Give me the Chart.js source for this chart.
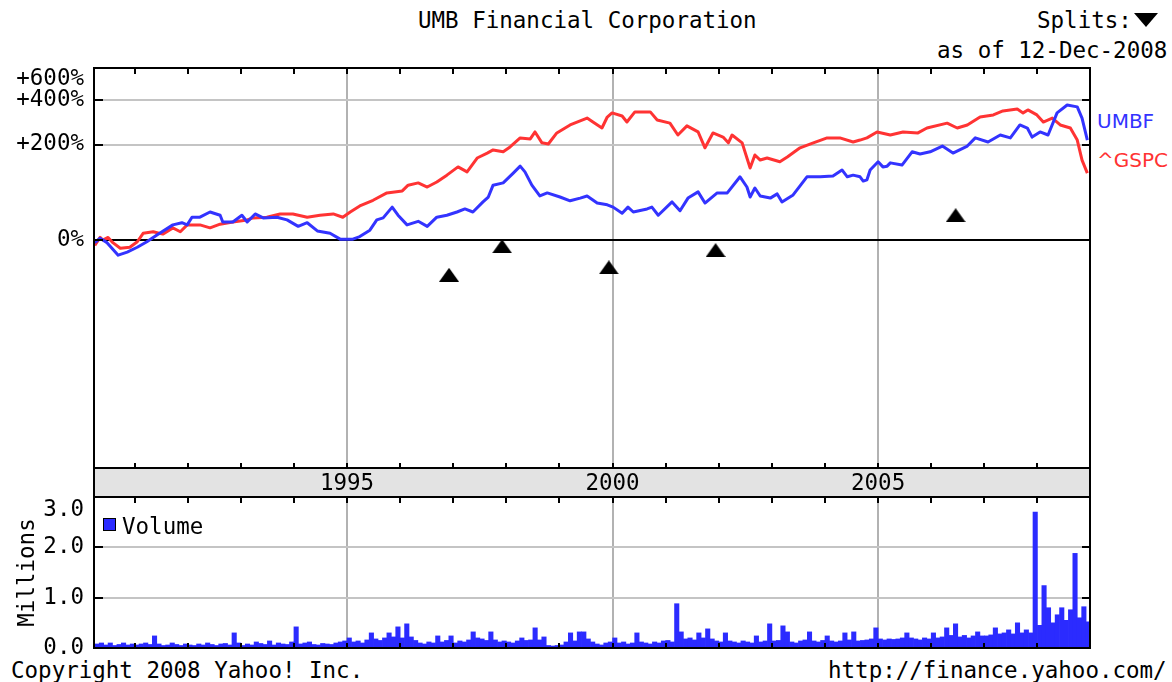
<!DOCTYPE html>
<html>
<head>
<meta charset="utf-8">
<script src="https://cdn.jsdelivr.net/npm/chart.js@4.4.1/dist/chart.umd.min.js"></script>
<style>
  body { margin: 0; background: #fff; width: 1172px; height: 682px; overflow: hidden; position: relative;
         font-family: "DejaVu Sans Mono", monospace; font-size: 22.5px; color: #000; }
  .t { position: absolute; white-space: pre; line-height: 27px; }
  .lbl { font-family: "DejaVu Sans", sans-serif; font-size: 20px; line-height: 24px; }
  .box { position: absolute; left: 0; width: 1172px; }
  #splitMark { position: absolute; left: 1134px; top: 13px; width: 0; height: 0;
               border-left: 12px solid transparent; border-right: 12px solid transparent; border-top: 14px solid #000; }
</style>
</head>
<body>
<div class="t" style="left:418px; top:7px">UMB Financial Corporation</div>
<div class="t" style="left:1037px; top:7px">Splits:</div>
<div id="splitMark"></div>
<div class="t" style="left:937px; top:37px">as of 12-Dec-2008</div>
<div class="t lbl" style="left:1097px; top:109px; color:#3333ff">UMBF</div>
<div class="t lbl" style="left:1097px; top:148px; color:#ff3333">^GSPC</div>
<div class="t" style="left:11px; top:657px">Copyright 2008 Yahoo! Inc.</div>
<div class="t" style="left:828px; top:657px">http://finance.yahoo.com/</div>

<div class="box" style="top:0; height:497px"><canvas id="priceChart"></canvas></div>
<div class="box" style="top:480px; height:180px"><canvas id="volumeChart"></canvas></div>

<script>
// ---- data (x in decimal years, change in % since the start) ----
const umbfYears = [1990.25, 1990.35, 1990.48, 1990.69, 1990.86, 1991.05, 1991.23, 1991.42, 1991.72, 1991.89,
  1991.99, 1992.08, 1992.23, 1992.42, 1992.61, 1992.66, 1992.85, 1993.02, 1993.12, 1993.27,
  1993.42, 1993.68, 1993.87, 1994.08, 1994.25, 1994.44, 1994.68, 1994.87, 1995.11, 1995.24,
  1995.43, 1995.56, 1995.68, 1995.85, 1995.96, 1996.13, 1996.34, 1996.51, 1996.69, 1996.88,
  1997.07, 1997.22, 1997.37, 1997.56, 1997.66, 1997.75, 1997.94, 1998.13, 1998.26, 1998.35,
  1998.48, 1998.63, 1998.77, 1999.01, 1999.20, 1999.39, 1999.52, 1999.71, 1999.90, 2000.01,
  2000.18, 2000.29, 2000.39, 2000.65, 2000.74, 2000.86, 2001.12, 2001.27, 2001.42, 2001.61,
  2001.74, 2001.97, 2002.16, 2002.40, 2002.53, 2002.59, 2002.68, 2002.78, 2002.97, 2003.10,
  2003.19, 2003.40, 2003.66, 2003.91, 2004.15, 2004.32, 2004.42, 2004.53, 2004.66, 2004.72,
  2004.79, 2004.85, 2005.00, 2005.09, 2005.17, 2005.23, 2005.45, 2005.64, 2005.79, 2005.98,
  2006.21, 2006.41, 2006.68, 2006.83, 2007.07, 2007.30, 2007.49, 2007.67, 2007.81, 2007.90,
  2008.05, 2008.20, 2008.37, 2008.56, 2008.75, 2008.84, 2008.94];
const umbfPct = [-3, 2, -3, -16, -13, -8, -2, 6, 19, 22,
  19, 30, 30, 38, 33, 23, 23, 33, 23, 35,
  29, 30, 26, 17, 22, 11, 8, 1, 1, 4,
  12, 26, 29, 46, 33, 19, 24, 17, 30, 33,
  38, 43, 38, 55, 64, 88, 93, 116, 134, 119,
  88, 66, 72, 64, 57, 62, 66, 53, 50, 46,
  36, 46, 38, 43, 46, 33, 55, 40, 62, 74,
  53, 72, 72, 107, 84, 64, 82, 66, 62, 70,
  55, 68, 107, 107, 109, 124, 107, 111, 107, 97,
  100, 124, 146, 132, 134, 143, 137, 176, 169, 176,
  195, 172, 195, 224, 209, 235, 224, 276, 263, 227,
  247, 235, 332, 373, 363, 307, 216];

const gspcYears = [1990.25, 1990.35, 1990.40, 1990.50, 1990.59, 1990.73, 1990.91, 1991.05, 1991.16, 1991.35,
  1991.53, 1991.72, 1991.86, 1991.99, 1992.23, 1992.42, 1992.61, 1992.85, 1993.12, 1993.23,
  1993.49, 1993.74, 1993.98, 1994.25, 1994.49, 1994.74, 1994.92, 1995.06, 1995.24, 1995.49,
  1995.75, 1996.04, 1996.15, 1996.34, 1996.51, 1996.69, 1996.88, 1997.09, 1997.26, 1997.45,
  1997.64, 1997.75, 1997.94, 1998.07, 1998.26, 1998.45, 1998.54, 1998.67, 1998.79, 1998.95,
  1999.20, 1999.52, 1999.63, 1999.80, 1999.90, 1999.99, 2000.18, 2000.27, 2000.42, 2000.71,
  2000.84, 2001.08, 2001.23, 2001.40, 2001.61, 2001.74, 2001.89, 2002.08, 2002.18, 2002.25,
  2002.44, 2002.53, 2002.59, 2002.68, 2002.78, 2002.91, 2003.15, 2003.29, 2003.53, 2003.78,
  2004.04, 2004.28, 2004.53, 2004.66, 2004.79, 2004.98, 2005.23, 2005.47, 2005.75, 2005.92,
  2006.30, 2006.49, 2006.68, 2006.92, 2007.17, 2007.35, 2007.62, 2007.73, 2007.82, 2007.99,
  2008.11, 2008.28, 2008.43, 2008.62, 2008.75, 2008.84, 2008.94];
const gspcPct = [-6, 3, 0, 3, -3, -9, -8, -2, 8, 10,
  7, 15, 10, 19, 19, 15, 20, 23, 26, 29,
  30, 35, 35, 30, 33, 35, 30, 38, 48, 58,
  72, 76, 88, 93, 84, 95, 111, 132, 119, 157,
  172, 182, 176, 192, 224, 220, 247, 206, 202, 243,
  276, 307, 289, 263, 312, 332, 317, 289, 337, 337,
  298, 284, 235, 272, 247, 189, 243, 227, 206, 235,
  206, 157, 129, 166, 151, 157, 146, 160, 189, 206,
  224, 224, 209, 216, 224, 247, 235, 247, 243, 263,
  284, 263, 276, 312, 322, 342, 352, 332, 347, 322,
  289, 307, 276, 263, 216, 151, 116];

// split markers
const splitYears = [1996.92, 1997.92, 1999.93, 2001.94, 2006.46];
const splitPct = [-33, -7, -27, -11, 33];

// monthly volume in millions, April 1990 .. December 2008
const volumeFirstMonth = [1990, 4];
const volumeMillions = [
  0.08, 0.10, 0.06, 0.10, 0.05, 0.07, 0.10, 0.06, 0.08,                    // 1990
  0.06, 0.08, 0.10, 0.07, 0.24, 0.08, 0.05, 0.06, 0.10, 0.07, 0.05, 0.08,  // 1991
  0.06, 0.05, 0.08, 0.06, 0.10, 0.07, 0.05, 0.08, 0.09, 0.06, 0.30, 0.10,  // 1992
  0.05, 0.08, 0.06, 0.12, 0.09, 0.07, 0.14, 0.06, 0.10, 0.08, 0.07, 0.12,  // 1993
  0.42, 0.08, 0.10, 0.12, 0.07, 0.06, 0.09, 0.08, 0.07, 0.10, 0.12, 0.14,  // 1994
  0.20, 0.12, 0.14, 0.10, 0.16, 0.30, 0.18, 0.15, 0.20, 0.30, 0.22, 0.42,  // 1995
  0.20, 0.48, 0.22, 0.15, 0.10, 0.08, 0.12, 0.10, 0.24, 0.12, 0.15, 0.24,  // 1996
  0.10, 0.14, 0.12, 0.16, 0.32, 0.20, 0.18, 0.15, 0.32, 0.16, 0.12, 0.14,  // 1997
  0.12, 0.10, 0.14, 0.20, 0.15, 0.16, 0.40, 0.16, 0.22, 0.05, 0.04, 0.05,  // 1998
  0.06, 0.12, 0.30, 0.14, 0.32, 0.32, 0.18, 0.12, 0.08, 0.06, 0.10, 0.12,  // 1999
  0.20, 0.10, 0.12, 0.08, 0.10, 0.30, 0.12, 0.10, 0.08, 0.12, 0.10, 0.14,  // 2000
  0.15, 0.12, 0.88, 0.32, 0.18, 0.20, 0.16, 0.30, 0.20, 0.38, 0.18, 0.14,  // 2001
  0.12, 0.30, 0.14, 0.12, 0.10, 0.14, 0.12, 0.10, 0.24, 0.12, 0.14, 0.48,  // 2002
  0.14, 0.15, 0.44, 0.32, 0.12, 0.10, 0.14, 0.16, 0.32, 0.14, 0.12, 0.15,  // 2003
  0.24, 0.14, 0.12, 0.14, 0.30, 0.16, 0.32, 0.14, 0.15, 0.16, 0.18, 0.40,  // 2004
  0.18, 0.16, 0.18, 0.17, 0.18, 0.20, 0.30, 0.20, 0.18, 0.16, 0.20, 0.18,  // 2005
  0.30, 0.20, 0.22, 0.40, 0.25, 0.48, 0.22, 0.25, 0.20, 0.24, 0.32, 0.24,  // 2006
  0.24, 0.26, 0.40, 0.28, 0.30, 0.36, 0.28, 0.50, 0.30, 0.36, 0.30, 2.70,  // 2007
  0.45, 1.24, 0.80, 0.50, 0.66, 0.80, 0.55, 0.76, 1.88, 0.60, 0.82, 0.52   // 2008
];

// axis ticks
const yearTicks = [1991, 1992, 1993, 1994, 1995, 1996, 1997, 1998, 1999, 2000,
  2001, 2002, 2003, 2004, 2005, 2006, 2007, 2008];
const labelledYears = [1995, 2000, 2005];
const pctTicks = [0, 200, 400, 600];
const pctTickLabels = ['0%', '+200%', '+400%', '+600%'];
const volumeTicks = [0, 1, 2, 3];
const volumeTickLabels = ['0.0', '1.0', '2.0', '3.0'];

// ---- display settings ----
const xMin = 1990.235, xMax = 2008.99;
const yMin = 0.07244, yMax = 7.244;   // growth ratios at the bottom / top of the price panel
const BLUE = '#3333ff', RED = '#ff3333', BAR_BLUE = '#2b2bff';
const GRID = '#c4c4c4', VGRID = '#b2b2b2';
const monoFamily = "'DejaVu Sans Mono', monospace";

const toRatio = p => 1 + p / 100;

// black triangle for the split markers
const tri = document.createElement('canvas');
tri.width = 20; tri.height = 14;
const tctx = tri.getContext('2d');
tctx.beginPath(); tctx.moveTo(10, 0); tctx.lineTo(20, 14); tctx.lineTo(0, 14); tctx.closePath();
tctx.fillStyle = '#000'; tctx.fill();

// frame, date band and the small inside tick marks
const panelFrame = {
  id: 'panelFrame',
  beforeDraw(chart, args, opts) {
    if (!opts.band) return;
    const { ctx, chartArea: a } = chart;
    ctx.save();
    ctx.fillStyle = '#e3e3e3';
    ctx.fillRect(a.left, a.bottom, a.right - a.left, opts.band);
    ctx.restore();
  },
  afterDraw(chart, args, opts) {
    const { ctx, chartArea: a, scales } = chart;
    ctx.save();
    ctx.strokeStyle = '#000';
    ctx.lineWidth = 2;
    ctx.strokeRect(a.left, a.top, a.right - a.left, a.bottom - a.top);
    if (opts.band) ctx.strokeRect(a.left, a.bottom, a.right - a.left, opts.band);
    ctx.beginPath();
    scales.x.ticks.forEach(t => {
      const px = Math.round(scales.x.getPixelForValue(t.value));
      ctx.moveTo(px, a.top); ctx.lineTo(px, a.top + 6);
      ctx.moveTo(px, a.bottom); ctx.lineTo(px, a.bottom - 5);
    });
    (opts.yMarks || []).forEach(v => {
      const py = Math.round(scales.y.getPixelForValue(v));
      ctx.moveTo(a.left, py); ctx.lineTo(a.left + 9, py);
      ctx.moveTo(a.right, py); ctx.lineTo(a.right - 8, py);
    });
    ctx.stroke();
    ctx.restore();
  }
};

// volume legend drawn inside the panel
const volumeLegend = {
  id: 'volumeLegend',
  afterDraw(chart) {
    const { ctx, chartArea: a } = chart;
    const ds = chart.data.datasets[0];
    ctx.save();
    ctx.fillStyle = ds.backgroundColor;
    ctx.fillRect(a.left + 9, a.top + 21, 13, 13);
    ctx.strokeStyle = '#000'; ctx.lineWidth = 1;
    ctx.strokeRect(a.left + 9.5, a.top + 21.5, 12, 12);
    ctx.fillStyle = '#000';
    ctx.font = `22.5px ${monoFamily}`;
    ctx.textBaseline = 'middle';
    ctx.fillText(ds.label, a.left + 28, a.top + 31);
    ctx.restore();
  }
};

const yearAxis = (showLabels) => ({
  type: 'linear',
  min: xMin,
  max: xMax,
  offset: false,
  afterBuildTicks: s => { s.ticks = yearTicks.map(v => ({ value: v })); },
  afterFit: s => { s.height = showLabels ? 29 : 0; s.paddingLeft = 0; s.paddingRight = 0; },
  border: { display: false },
  grid: {
    offset: false,
    drawTicks: false,
    lineWidth: 2,
    color: c => (c.tick && labelledYears.includes(c.tick.value)) ? VGRID : 'rgba(0,0,0,0)'
  },
  ticks: {
    display: showLabels,
    autoSkip: false,
    maxRotation: 0,
    padding: 3,
    color: '#000',
    font: { family: monoFamily, size: 22.5 },
    callback: v => labelledYears.includes(v) ? String(v) : ''
  }
});

new Chart(document.getElementById('priceChart'), {
  data: {
    datasets: [
      {
        type: 'scatter',
        label: 'Splits',
        data: splitYears.map((x, i) => ({ x, y: toRatio(splitPct[i]) })),
        pointStyle: tri,
        pointRadius: 10
      },
      {
        type: 'line',
        label: 'UMBF',
        data: umbfYears.map((x, i) => ({ x, y: toRatio(umbfPct[i]) })),
        borderColor: BLUE,
        borderWidth: 3,
        pointRadius: 0,
        tension: 0,
        borderJoinStyle: 'round'
      },
      {
        type: 'line',
        label: '^GSPC',
        data: gspcYears.map((x, i) => ({ x, y: toRatio(gspcPct[i]) })),
        borderColor: RED,
        borderWidth: 3,
        pointRadius: 0,
        tension: 0,
        borderJoinStyle: 'round'
      }
    ]
  },
  options: {
    responsive: true,
    maintainAspectRatio: false,
    animation: false,
    layout: { padding: { top: 68, right: 82, left: 0, bottom: 0 } },
    plugins: {
      legend: { display: false },
      tooltip: { enabled: false },
      panelFrame: { band: 29, yMarks: [toRatio(0), toRatio(200), toRatio(400)] }
    },
    scales: {
      x: yearAxis(true),
      y: {
        type: 'logarithmic',
        min: yMin,
        max: yMax,
        afterBuildTicks: s => { s.ticks = pctTicks.map(p => ({ value: toRatio(p) })); },
        afterFit: s => { s.width = 94; s.paddingTop = 0; s.paddingBottom = 0; },
        border: { display: false },
        grid: {
          drawTicks: false,
          lineWidth: 2,
          color: c => {
            if (!c.tick) return GRID;
            if (c.tick.value === toRatio(0)) return '#000';
            if (c.tick.value === toRatio(600)) return 'rgba(0,0,0,0)';
            return GRID;
          }
        },
        ticks: {
          autoSkip: false,
          padding: 10,
          color: '#000',
          font: c => ({
            family: monoFamily,
            size: 22.5,
            lineHeight: (c.tick && c.tick.value === toRatio(600)) ? '17px' : 1.2
          }),
          callback: v => {
            const i = pctTicks.findIndex(p => Math.abs(toRatio(p) - v) < 1e-9);
            if (i < 0) return '';
            // the top label sits a little below its own level, as in the original
            return pctTicks[i] === 600 ? ['', pctTickLabels[i]] : pctTickLabels[i];
          }
        }
      }
    }
  },
  plugins: [panelFrame]
});

const volumeX = volumeMillions.map((v, i) =>
  volumeFirstMonth[0] + (volumeFirstMonth[1] - 1 + i + 0.5) / 12);

new Chart(document.getElementById('volumeChart'), {
  type: 'bar',
  data: {
    datasets: [{
      label: 'Volume',
      data: volumeMillions.map((v, i) => ({ x: volumeX[i], y: v })),
      backgroundColor: BAR_BLUE,
      borderWidth: 0,
      barPercentage: 1,
      categoryPercentage: 1
    }]
  },
  options: {
    responsive: true,
    maintainAspectRatio: false,
    animation: false,
    layout: { padding: { top: 17, right: 82, left: 0, bottom: 12 } },
    plugins: {
      legend: { display: false },
      tooltip: { enabled: false },
      panelFrame: { band: 0, yMarks: [1, 2] }
    },
    scales: {
      x: yearAxis(false),
      y: {
        type: 'linear',
        min: 0,
        max: 3,
        afterBuildTicks: s => { s.ticks = volumeTicks.map(v => ({ value: v })); },
        afterFit: s => { s.width = 94; s.paddingTop = 0; s.paddingBottom = 0; },
        border: { display: false },
        grid: {
          drawTicks: false,
          lineWidth: 2,
          color: c => (c.tick && (c.tick.value === 1 || c.tick.value === 2)) ? GRID : 'rgba(0,0,0,0)'
        },
        title: {
          display: true,
          text: 'Millions',
          color: '#000',
          font: { family: monoFamily, size: 22.5 },
          padding: { top: 15, bottom: 0 }
        },
        ticks: {
          autoSkip: false,
          padding: 10,
          color: '#000',
          font: c => ({
            family: monoFamily,
            size: 22.5,
            lineHeight: (c.tick && c.tick.value === 3) ? '26px' : 1.2
          }),
          callback: v => {
            const i = volumeTicks.indexOf(v);
            if (i < 0) return '';
            return v === 3 ? ['', volumeTickLabels[i]] : volumeTickLabels[i];
          }
        }
      }
    }
  },
  plugins: [panelFrame, volumeLegend]
});
</script>
</body>
</html>
